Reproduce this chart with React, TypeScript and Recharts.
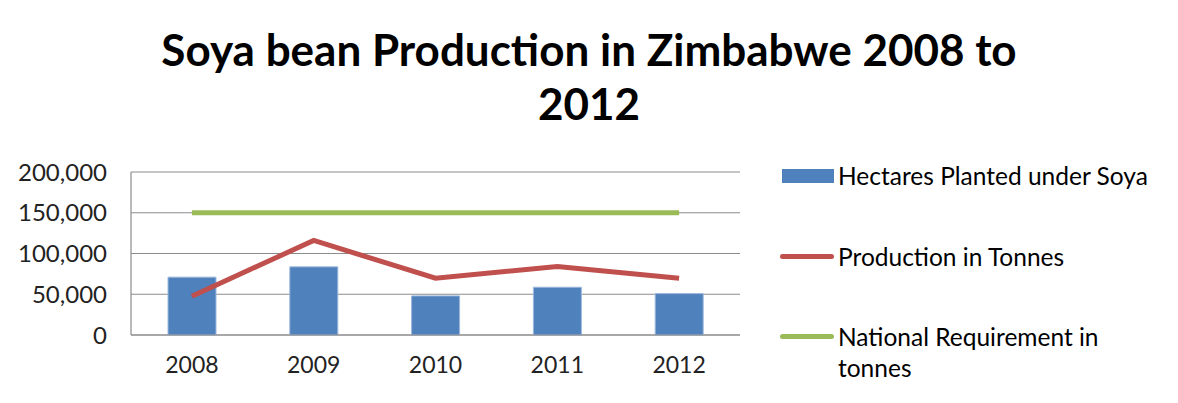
import React from "react";
import {
  ComposedChart,
  Bar,
  Line,
  XAxis,
  YAxis,
  CartesianGrid,
  Legend,
} from "recharts";

const years = ["2008", "2009", "2010", "2011", "2012"];
const hectares = [71000, 83600, 48000, 58600, 50800];
const production = [47600, 116000, 69700, 84000, 69700];
const requirement = [150000, 150000, 150000, 150000, 150000];
const yTicks = [0, 50000, 100000, 150000, 200000];

const seriesNames = [
  "Hectares Planted under Soya",
  "Production in Tonnes",
  "National Requirement in tonnes",
];

const data = years.map((y, i) => ({
  year: y,
  hectares: hectares[i],
  production: production[i],
  requirement: requirement[i],
}));

const FONT = "Lato, 'Open Sans', sans-serif";
const LEGEND_W = 390;

const renderLegend = (props: any) => {
  const payload = [...(props.payload || [])].sort(
    (a: any, b: any) => seriesNames.indexOf(a.value) - seriesNames.indexOf(b.value)
  );
  return (
    <div style={{ fontFamily: FONT, fontSize: 24.5, color: "#000" }}>
      {payload.map((p: any, i: number) => (
        <div
          key={i}
          style={{
            display: "flex",
            alignItems: "flex-start",
            height: 80.5,
          }}
        >
          <div style={{ width: 58, height: 31, display: "flex", alignItems: "center", flexShrink: 0 }}>
            {p.type === "rect" ? (
              <div style={{ width: 52, height: 14, background: p.color, marginLeft: 2 }} />
            ) : (
              <div style={{ width: 54, height: 5, background: p.color, borderRadius: 3 }} />
            )}
          </div>
          <div style={{ width: 320, lineHeight: "31px" }}>{p.value}</div>
        </div>
      ))}
    </div>
  );
};

export default function App() {
  return (
    <div style={{ position: "relative", margin: -8, width: 1178, height: 403, background: "#fff" }}>
      <div
        style={{
          position: "absolute",
          left: 0,
          top: 0,
          width: 1175,
          height: 400,
          borderTop: "2px solid #8c8c8c",
          borderLeft: "2px solid #8c8c8c",
          borderRight: "1px solid #8c8c8c",
          borderBottom: "1px solid #8c8c8c",
          boxSizing: "content-box",
          pointerEvents: "none",
        }}
      />
      <div
        style={{
          position: "absolute",
          left: 0,
          top: 22,
          width: 1178,
          textAlign: "center",
          fontFamily: FONT,
          fontWeight: "bold",
          fontSize: 44,
          lineHeight: "54px",
          color: "#000",
        }}
      >
        Soya bean Production in Zimbabwe 2008 to
        <br />
        2012
      </div>
      <ComposedChart
        width={1178}
        height={403}
        data={data}
        margin={{ top: 172, right: 438 - LEGEND_W, left: 0, bottom: 38 }}
      >
        <CartesianGrid vertical={false} stroke="#8c8c8c" strokeWidth={1.2} />
        <XAxis
          dataKey="year"
          height={30}
          axisLine={{ stroke: "#8c8c8c", strokeWidth: 1.2 }}
          tickLine={false}
          tickSize={0}
          tickMargin={22}
          tick={{ fontFamily: FONT, fontSize: 23, fill: "#222" }}
        />
        <YAxis
          width={131}
          domain={[0, 200000]}
          ticks={yTicks}
          interval={0}
          axisLine={{ stroke: "#8c8c8c", strokeWidth: 1.2 }}
          tickLine={false}
          tickSize={0}
          tickMargin={24}
          tickFormatter={(v: number) => v.toLocaleString("en-US")}
          tick={{ fontFamily: FONT, fontSize: 24, fill: "#222" }}
        />
        <Legend
          layout="vertical"
          align="right"
          verticalAlign="top"
          content={renderLegend}
          wrapperStyle={{ left: 780, top: 160, width: LEGEND_W }}
        />
        <Bar
          dataKey="hectares"
          name={seriesNames[0]}
          fill="#4F81BD"
          stroke="#9db8dc"
          strokeWidth={1}
          barSize={48}
          legendType="rect"
          isAnimationActive={false}
        />
        <Line
          dataKey="production"
          name={seriesNames[1]}
          stroke="#C0504D"
          strokeWidth={5}
          dot={false}
          activeDot={false}
          legendType="line"
          isAnimationActive={false}
        />
        <Line
          dataKey="requirement"
          name={seriesNames[2]}
          stroke="#9BBB59"
          strokeWidth={5}
          dot={false}
          activeDot={false}
          legendType="line"
          isAnimationActive={false}
        />
      </ComposedChart>
    </div>
  );
}
